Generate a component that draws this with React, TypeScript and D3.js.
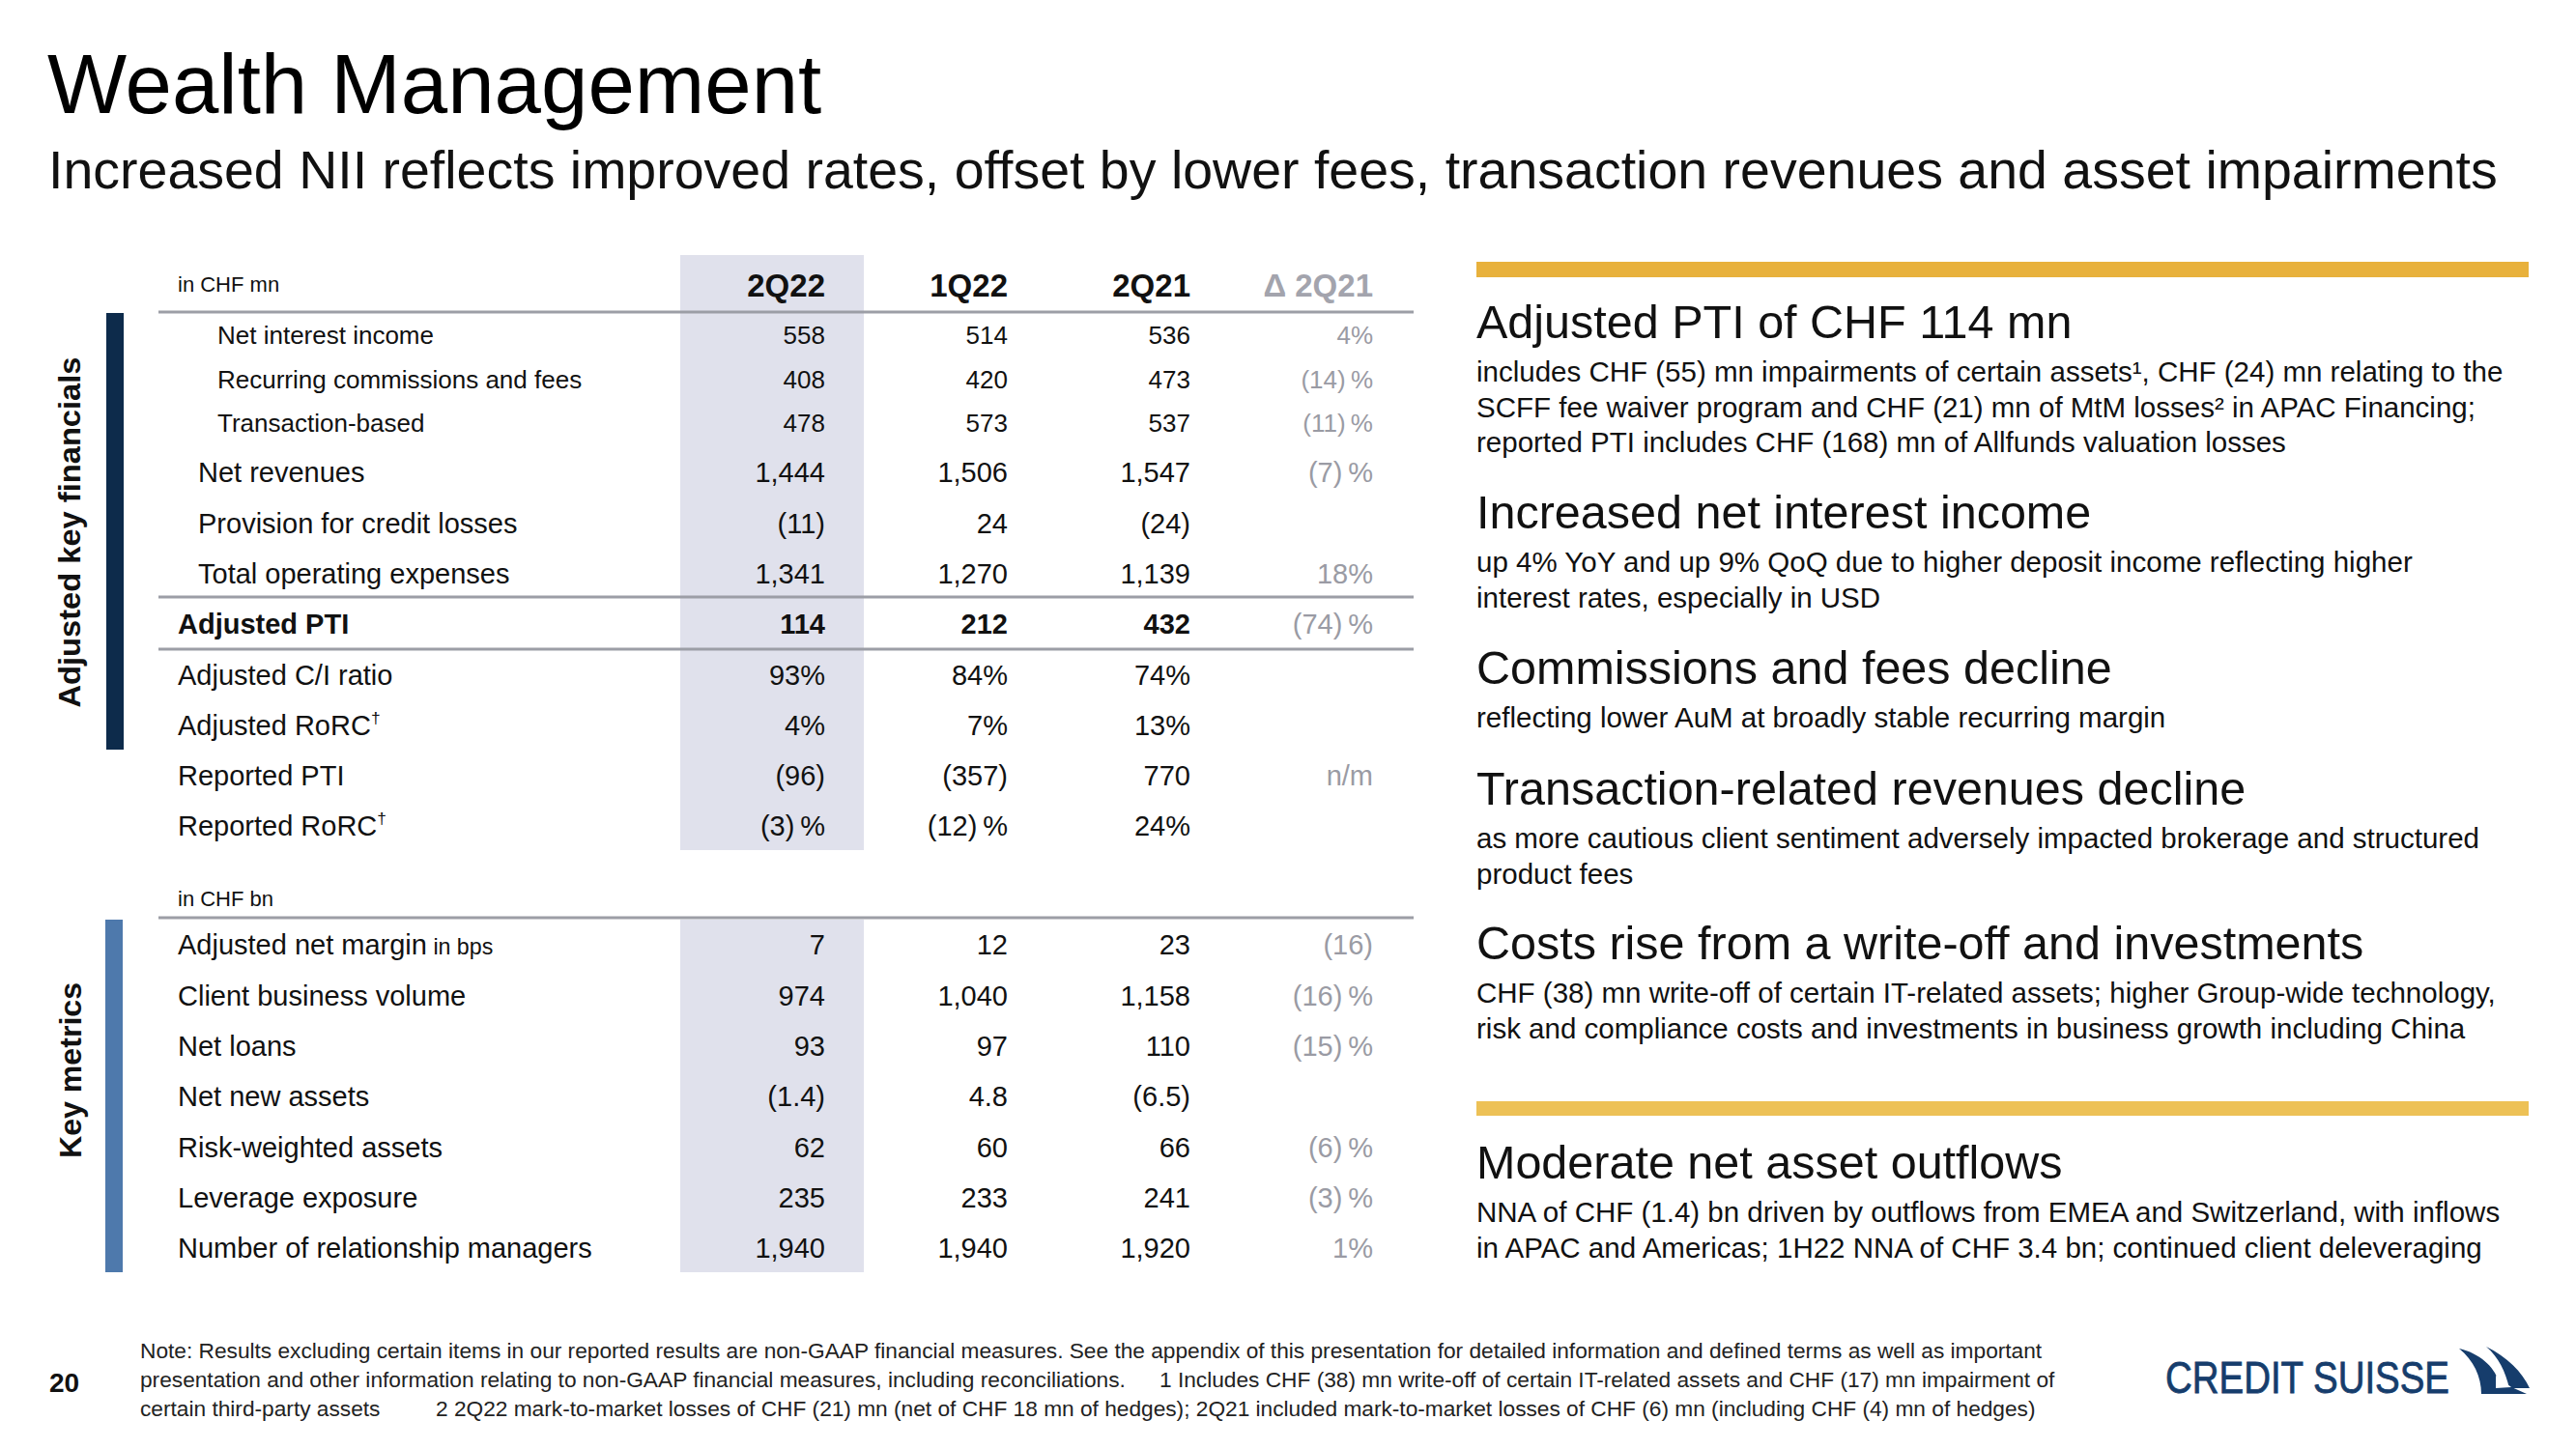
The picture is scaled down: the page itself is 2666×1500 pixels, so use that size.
import React from "react";
import * as d3 from "d3";

const FONT = "'Liberation Sans', Arial, Helvetica, sans-serif";

// ---------- data ----------
const titleText = "Wealth Management";
const subtitleText =
  "Increased NII reflects improved rates, offset by lower fees, transaction revenues and asset impairments";

const headers = ["2Q22", "1Q22", "2Q21", "Δ 2Q21"];

const finUnit = "in CHF mn";
const finLabels = [
  "Net interest income",
  "Recurring commissions and fees",
  "Transaction-based",
  "Net revenues",
  "Provision for credit losses",
  "Total operating expenses",
  "Adjusted PTI",
  "Adjusted C/I ratio",
  "Adjusted RoRC†",
  "Reported PTI",
  "Reported RoRC†",
];
const fin2Q22 = ["558", "408", "478", "1,444", "(11)", "1,341", "114", "93%", "4%", "(96)", "(3)\u2009%"];
const fin1Q22 = ["514", "420", "573", "1,506", "24", "1,270", "212", "84%", "7%", "(357)", "(12)\u2009%"];
const fin2Q21 = ["536", "473", "537", "1,547", "(24)", "1,139", "432", "74%", "13%", "770", "24%"];
const finDelta = ["4%", "(14)\u2009%", "(11)\u2009%", "(7)\u2009%", "", "18%", "(74)\u2009%", "", "", "n/m", ""];

const kmUnit = "in CHF bn";
const kmLabels = [
  "Adjusted net margin in bps",
  "Client business volume",
  "Net loans",
  "Net new assets",
  "Risk-weighted assets",
  "Leverage exposure",
  "Number of relationship managers",
];
const km2Q22 = ["7", "974", "93", "(1.4)", "62", "235", "1,940"];
const km1Q22 = ["12", "1,040", "97", "4.8", "60", "233", "1,940"];
const km2Q21 = ["23", "1,158", "110", "(6.5)", "66", "241", "1,920"];
const kmDelta = ["(16)", "(16)\u2009%", "(15)\u2009%", "", "(6)\u2009%", "(3)\u2009%", "1%"];

const sectionLabels = ["Adjusted key financials", "Key metrics"];

const commentaryHeads = [
  "Adjusted PTI of CHF 114 mn",
  "Increased net interest income",
  "Commissions and fees decline",
  "Transaction-related revenues decline",
  "Costs rise from a write-off and investments",
  "Moderate net asset outflows",
];
const commentaryBodies = [
  [
    "includes CHF (55) mn impairments of certain assets¹, CHF (24) mn relating to the",
    "SCFF fee waiver program and CHF (21) mn of MtM losses² in APAC Financing;",
    "reported PTI includes CHF (168) mn of Allfunds valuation losses",
  ],
  [
    "up 4% YoY and up 9% QoQ due to higher deposit income reflecting higher",
    "interest rates, especially in USD",
  ],
  ["reflecting lower AuM at broadly stable recurring margin"],
  [
    "as more cautious client sentiment adversely impacted brokerage and structured",
    "product fees",
  ],
  [
    "CHF (38) mn write-off of certain IT-related assets; higher Group-wide technology,",
    "risk and compliance costs and investments in business growth including China",
  ],
  [
    "NNA of CHF (1.4) bn driven by outflows from EMEA and Switzerland, with inflows",
    "in APAC and Americas; 1H22 NNA of CHF 3.4 bn; continued client deleveraging",
  ],
];

const footnoteLines = [
  ["Note: Results excluding certain items in our reported results are non-GAAP financial measures. See the appendix of this presentation for detailed information and defined terms as well as important"],
  [
    "presentation and other information relating to non-GAAP financial measures, including reconciliations.",
    "1 Includes CHF (38) mn write-off of certain IT-related assets and CHF (17) mn impairment of",
  ],
  [
    "certain third-party assets",
    "2 2Q22 mark-to-market losses of CHF (21) mn (net of CHF 18 mn of hedges); 2Q21 included mark-to-market losses of CHF (6) mn (including CHF (4) mn of hedges)",
  ],
];
const pageNumber = "20";
const logoText = "CREDIT SUISSE";

// ---------- helpers ----------
function LabelText({ label, x, y, size, bold }: { label: string; x: number; y: number; size: number; bold?: boolean }) {
  const dagger = label.endsWith("†");
  const bps = label.endsWith(" in bps");
  const main = dagger ? label.slice(0, -1) : bps ? label.slice(0, -7) : label;
  return (
    <text x={x} y={y} dy="0.36em" fontSize={size} fontWeight={bold ? 700 : 400} fill="#111">
      {main}
      {dagger && (
        <tspan fontSize={size * 0.6} dy={-size * 0.42}>
          †
        </tspan>
      )}
      {bps && <tspan fontSize={size * 0.8}> in bps</tspan>}
    </text>
  );
}

export default function App() {
  const W = 2666;
  const H = 1500;

  const colX = d3.scalePoint<string>().domain(headers).range([854, 1421]);
  const finY = (i: number) =>
    i < 3 ? d3.scaleLinear().domain([0, 2]).range([347, 438])(i) : d3.scaleLinear().domain([3, 10]).range([489, 855])(i);
  const kmY = d3.scaleLinear().domain([0, 6]).range([978, 1292]);

  const finCols = [fin2Q22, fin1Q22, fin2Q21, finDelta];
  const kmCols = [km2Q22, km1Q22, km2Q21, kmDelta];

  const subRows = new Set([0, 1, 2]);
  const indentRows = new Set([3, 4, 5]);
  const boldRows = new Set([6]);

  const gridColor = "#9c9ea6";
  const shade = "#e0e1ec";
  const deltaColor = "#9a9ba4";

  const headBase = [350, 547, 708, 833, 993, 1220];
  const rightX = 1528;

  return (
    <svg
      width={W}
      height={H}
      viewBox={`0 0 ${W} ${H}`}
      style={{ position: "absolute", left: 0, top: 0, background: "#fff", fontFamily: FONT }}
    >
      <rect x={0} y={0} width={W} height={H} fill="#fff" />
      {/* title */}
      <text x={49} y={117} fontSize={87} fill="#000">
        {titleText}
      </text>
      <text x={50} y={195} fontSize={55.5} fill="#111">
        {subtitleText}
      </text>

      {/* shaded current column */}
      <rect x={704} y={264} width={190} height={616} fill={shade} />
      <rect x={704} y={952} width={190} height={365} fill={shade} />

      {/* section bars */}
      <rect x={110} y={324} width={18} height={452} fill="#0d2b4b" />
      <rect x={109} y={952} width={18} height={365} fill="#4e79ac" />

      {/* rotated section labels */}
      <text
        transform={`translate(83,551) rotate(-90)`}
        textAnchor="middle"
        fontSize={32}
        fontWeight={700}
        fill="#111"
        textLength={363}
        lengthAdjust="spacingAndGlyphs"
      >
        {sectionLabels[0]}
      </text>
      <text
        transform={`translate(84,1108) rotate(-90)`}
        textAnchor="middle"
        fontSize={32}
        fontWeight={700}
        fill="#111"
        textLength={182}
        lengthAdjust="spacingAndGlyphs"
      >
        {sectionLabels[1]}
      </text>

      {/* header */}
      <text x={184} y={294} dy="0.36em" fontSize={22} fill="#111">
        {finUnit}
      </text>
      {headers.map((h, i) => (
        <text
          key={h}
          x={colX(h)}
          y={295}
          dy="0.36em"
          textAnchor="end"
          fontSize={33}
          fontWeight={700}
          fill={i === 3 ? "#a3a4ad" : "#111"}
        >
          {h}
        </text>
      ))}

      {/* grid lines */}
      <line x1={164} x2={1463} y1={323} y2={323} stroke={gridColor} strokeWidth={3} />
      <line x1={164} x2={1463} y1={618} y2={618} stroke={gridColor} strokeWidth={3} />
      <line x1={164} x2={1463} y1={672} y2={672} stroke={gridColor} strokeWidth={3} />
      <line x1={164} x2={1463} y1={950} y2={950} stroke={gridColor} strokeWidth={3} />

      {/* financials rows */}
      {finLabels.map((lab, i) => {
        const y = finY(i);
        const size = subRows.has(i) ? 26 : 29;
        const x = subRows.has(i) ? 225 : indentRows.has(i) ? 205 : 184;
        return (
          <g key={lab}>
            <LabelText label={lab} x={x} y={y} size={size} bold={boldRows.has(i)} />
            {finCols.map((col, c) =>
              col[i] ? (
                <text
                  key={c}
                  x={colX(headers[c])}
                  y={y}
                  dy="0.36em"
                  textAnchor="end"
                  fontSize={size}
                  fontWeight={boldRows.has(i) && c < 3 ? 700 : 400}
                  fill={c === 3 ? deltaColor : "#111"}
                >
                  {col[i]}
                </text>
              ) : null
            )}
          </g>
        );
      })}

      {/* key metrics */}
      <text x={184} y={930} dy="0.36em" fontSize={22} fill="#111">
        {kmUnit}
      </text>
      {kmLabels.map((lab, i) => {
        const y = kmY(i);
        return (
          <g key={lab}>
            <LabelText label={lab} x={184} y={y} size={29} />
            {kmCols.map((col, c) =>
              col[i] ? (
                <text
                  key={c}
                  x={colX(headers[c])}
                  y={y}
                  dy="0.36em"
                  textAnchor="end"
                  fontSize={29}
                  fill={c === 3 ? deltaColor : "#111"}
                >
                  {col[i]}
                </text>
              ) : null
            )}
          </g>
        );
      })}

      {/* right commentary */}
      <rect x={rightX} y={271} width={1089} height={16} fill="#e8b13c" />
      <rect x={rightX} y={1140} width={1089} height={15} fill="#edc156" />
      {commentaryHeads.map((h, i) => (
        <g key={h}>
          <text x={rightX} y={headBase[i]} fontSize={48.5} fill="#111">
            {h}
          </text>
          {commentaryBodies[i].map((line, j) => (
            <text key={j} x={rightX} y={headBase[i] + 45 + j * 36.5} fontSize={29.5} fill="#111">
              {line}
            </text>
          ))}
        </g>
      ))}

      {/* footer */}
      <text x={51} y={1441} fontSize={28} fontWeight={700} fill="#111">
        {pageNumber}
      </text>
      {footnoteLines.map((parts, i) => (
        <text key={i} y={1406 + i * 30} fontSize={22.7} fill="#222">
          {parts.map((p, j) => (
            <tspan key={j} x={j === 0 ? 145 : i === 1 ? 1200 : 451}>
              {p}
            </tspan>
          ))}
        </text>
      ))}

      {/* logo */}
      <text
        x={2241}
        y={1442}
        fontSize={46}
        fill="#163d6c"
        stroke="#163d6c"
        strokeWidth={0.8}
        textLength={294}
        lengthAdjust="spacingAndGlyphs"
      >
        {logoText}
      </text>
      <path d="M2573 1394 C2595 1405 2610 1420 2618 1437 L2597 1437 C2593 1420 2586 1405 2573 1394 Z" fill="#163d6c" />
      <path d="M2545 1396 C2566 1401 2581 1414 2586 1430 L2615 1443 L2568 1443 C2568 1425 2560 1408 2545 1396 Z" fill="#163d6c" />
      <path d="M2583 1424 L2599 1436 L2583 1437 Z" fill="#fff" />
    </svg>
  );
}
